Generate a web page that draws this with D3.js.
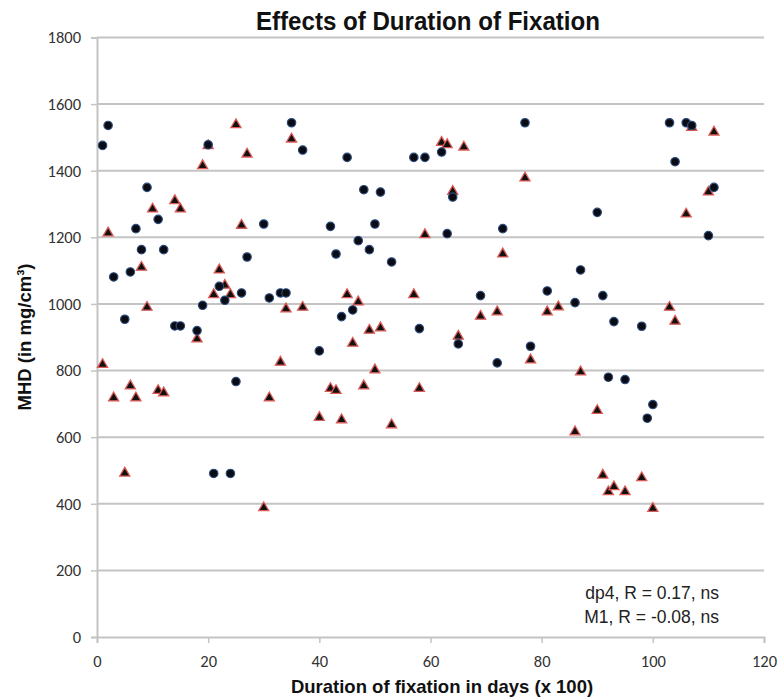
<!DOCTYPE html>
<html>
<head>
<meta charset="utf-8">
<script src="https://cdn.jsdelivr.net/npm/d3@7"></script>
<style>
  html, body { margin: 0; padding: 0; background: #fff; }
  svg { display: block; }
</style>
</head>
<body>
<svg id="chart" width="781" height="700"></svg>
<script>
// dp4 series (circles): duration (x 100 days) and MHD (mg/cm³)
const dp4X = [1, 2, 3, 5, 6, 7, 8, 9, 11, 12, 14, 15, 18, 19, 20, 21, 22, 23, 24, 25, 26, 27,
  30, 31, 33, 34, 35, 37, 40, 42, 43, 44, 45, 46, 47, 48, 49, 50, 51, 53, 57, 58, 59, 62, 63, 64,
  65, 69, 72, 73, 77, 78, 81, 86, 87, 90, 91, 92, 93, 95, 98, 99, 100, 103, 104, 106, 107, 110, 111];
const dp4Y = [1476, 1536, 1081, 954, 1096, 1226, 1163, 1350, 1254, 1163, 934, 934, 920, 996, 1478, 491, 1053, 1011, 491, 767, 1033, 1141,
  1240, 1018, 1033, 1033, 1544, 1462, 859, 1233, 1150, 962, 1440, 982, 1190, 1343, 1163, 1240, 1336, 1126, 1440, 926, 1440, 1456, 1211, 1321,
  880, 1025, 823, 1226, 1544, 873, 1039, 1004, 1102, 1275, 1025, 780, 947, 773, 933, 657, 698, 1544, 1427, 1544, 1536, 1205, 1350];

// M1 series (triangles)
const m1X = [1, 2, 3, 5, 6, 7, 8, 9, 10, 11, 12, 14, 15, 18, 19, 20, 21, 22, 23, 24, 25, 26, 27,
  30, 31, 33, 34, 35, 37, 40, 42, 43, 44, 45, 46, 47, 48, 49, 50, 51, 53, 57, 58, 59, 62, 63, 64,
  65, 66, 69, 72, 73, 77, 78, 81, 83, 86, 87, 90, 91, 92, 93, 95, 98, 100, 103, 104, 106, 107, 110, 111];
const m1Y = [821, 1216, 721, 495, 757, 721, 1113, 993, 1288, 743, 736, 1313, 1288, 898, 1418, 1478, 1031, 1105, 1059, 1031, 1541, 1239, 1453,
  391, 721, 828, 988, 1498, 993, 662, 749, 743, 655, 1031, 885, 1009, 757, 924, 805, 931, 640, 1031, 749, 1211, 1488, 1481, 1341,
  906, 1474, 966, 979, 1153, 1381, 835, 979, 994, 619, 799, 683, 489, 439, 454, 439, 481, 389, 993, 951, 1273, 1533, 1339, 1519];

const xTicks = [0, 20, 40, 60, 80, 100, 120];
const yTicks = [0, 200, 400, 600, 800, 1000, 1200, 1400, 1600, 1800];

const titleText = "Effects of Duration of Fixation";
const xTitle = "Duration of fixation in days (x 100)";
const yTitle = "MHD (in mg/cm³)";
const notes = ["dp4, R = 0.17, ns", "M1, R = -0.08, ns"];

const svg = d3.select("#chart");
const plotLeft = 97, plotRight = 764, plotTop = 37.5, plotBottom = 637;

const x = d3.scaleLinear().domain([0, 120]).range([plotLeft, plotRight]);
const y = d3.scaleLinear().domain([0, 1800]).range([plotBottom, plotTop]);

const tickFont = "Carlito, Calibri, Lato, 'Open Sans', sans-serif";
const gridColor = "#c4c4c4";

// horizontal gridlines
svg.append("g")
  .selectAll("line")
  .data(yTicks.filter(d => d > 0))
  .join("line")
  .attr("x1", plotLeft).attr("x2", plotRight)
  .attr("y1", d => y(d)).attr("y2", d => y(d))
  .attr("stroke", gridColor)
  .attr("stroke-width", 2);

// y axis
const yAxis = svg.append("g")
  .attr("transform", `translate(${plotLeft},0)`)
  .call(d3.axisLeft(y).tickValues(yTicks).tickSize(6).tickPadding(10).tickFormat(d3.format("d")));
yAxis.select(".domain").attr("stroke", gridColor).attr("stroke-width", 2);
yAxis.selectAll(".tick line").attr("stroke", gridColor).attr("stroke-width", 1.5);
yAxis.selectAll("text")
  .attr("font-family", tickFont).attr("font-size", 16.5).attr("fill", "#333");

// x axis
const xAxis = svg.append("g")
  .attr("transform", `translate(0,${plotBottom})`)
  .call(d3.axisBottom(x).tickValues(xTicks).tickSize(6).tickPadding(12).tickFormat(d3.format("d")));
xAxis.select(".domain").attr("stroke", gridColor).attr("stroke-width", 2);
xAxis.selectAll(".tick line").attr("stroke", gridColor).attr("stroke-width", 1.5);
xAxis.selectAll("text")
  .attr("font-family", tickFont).attr("font-size", 16.5).attr("fill", "#333");

// M1 triangles
const tri = d3.symbol().type(d3.symbolTriangle).size(44);
svg.append("g")
  .selectAll("path")
  .data(m1X.map((d, i) => [d, m1Y[i]]))
  .join("path")
  .attr("d", tri)
  .attr("transform", d => `translate(${x(d[0])},${y(d[1]) + 1})`)
  .attr("fill", "#111")
  .attr("stroke", "#db5a56")
  .attr("stroke-width", 1.3);

// dp4 circles
svg.append("g")
  .selectAll("circle")
  .data(dp4X.map((d, i) => [d, dp4Y[i]]))
  .join("circle")
  .attr("cx", d => x(d[0]))
  .attr("cy", d => y(d[1]))
  .attr("r", 4.2)
  .attr("fill", "#0b0b14")
  .attr("stroke", "#2a4a7a")
  .attr("stroke-width", 1.2);

// title (condensed bold)
svg.append("text")
  .attr("x", 428).attr("y", 30)
  .attr("text-anchor", "middle")
  .attr("font-family", "'Liberation Sans Narrow', 'Arial Narrow', 'Liberation Sans', Arial, sans-serif")
  .attr("font-weight", "bold")
  .attr("font-size", 25)
  .attr("textLength", 344)
  .attr("lengthAdjust", "spacingAndGlyphs")
  .attr("fill", "#111")
  .text(titleText);

// axis titles
svg.append("text")
  .attr("x", 442).attr("y", 693)
  .attr("text-anchor", "middle")
  .attr("font-family", "'Liberation Sans', Arial, sans-serif")
  .attr("font-weight", "bold")
  .attr("font-size", 18.5)
  .attr("fill", "#111")
  .text(xTitle);

svg.append("text")
  .attr("transform", "translate(31,337) rotate(-90)")
  .attr("text-anchor", "middle")
  .attr("font-family", "'Liberation Sans', Arial, sans-serif")
  .attr("font-weight", "bold")
  .attr("font-size", 18.5)
  .attr("fill", "#111")
  .text(yTitle);

// correlation notes
svg.append("g")
  .selectAll("text")
  .data(notes)
  .join("text")
  .attr("x", 719)
  .attr("y", (d, i) => 599 + i * 24)
  .attr("text-anchor", "end")
  .attr("font-family", "'Liberation Sans', Arial, sans-serif")
  .attr("font-size", 17.5)
  .attr("fill", "#222")
  .text(d => d);
</script>
</body>
</html>
